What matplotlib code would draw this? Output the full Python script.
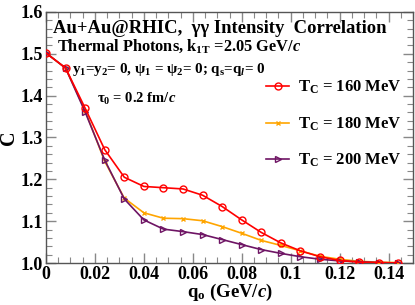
import matplotlib
matplotlib.use("Agg")
import matplotlib.pyplot as plt
from matplotlib.ticker import MultipleLocator, FixedLocator

plt.rcParams['font.family'] = ['Liberation Serif', 'DejaVu Serif']
plt.rcParams['font.weight'] = 'bold'
plt.rcParams['mathtext.fontset'] = 'custom'
plt.rcParams['mathtext.rm'] = 'Liberation Serif:bold'
plt.rcParams['mathtext.bf'] = 'Liberation Serif:bold'
plt.rcParams['mathtext.it'] = 'Liberation Serif:italic'

q = [0.0, 0.008, 0.016, 0.024, 0.032, 0.040, 0.048, 0.056, 0.064, 0.072,
     0.080, 0.088, 0.096, 0.104, 0.112, 0.120, 0.128, 0.136, 0.144]
c160 = [1.502, 1.466, 1.370, 1.271, 1.205, 1.183, 1.180, 1.177, 1.162, 1.135,
        1.103, 1.073, 1.048, 1.029, 1.015, 1.006, 1.002, 1.001, 1.000]
c180 = [1.502, 1.466, 1.364, 1.243, 1.155, 1.120, 1.107, 1.106, 1.101, 1.087,
        1.071, 1.054, 1.042, 1.029, 1.016, 1.009, 1.004, 1.002, 1.001]
c200 = [1.502, 1.466, 1.361, 1.246, 1.153, 1.103, 1.081, 1.075, 1.068, 1.056,
        1.044, 1.032, 1.023, 1.015, 1.009, 1.005, 1.003, 1.001, 1.000]
labels = [r'T$_\mathrm{C}$ = 160 MeV', r'T$_\mathrm{C}$ = 180 MeV', r'T$_\mathrm{C}$ = 200 MeV']
xticks = [0, 0.02, 0.04, 0.06, 0.08, 0.1, 0.12, 0.14]
xticklabels = ['0', '0.02', '0.04', '0.06', '0.08', '0.1', '0.12', '0.14']
yticks = [1.0, 1.1, 1.2, 1.3, 1.4, 1.5, 1.6]
yticklabels = ['1.0', '1.1', '1.2', '1.3', '1.4', '1.5', '1.6']

fig = plt.figure(figsize=(4.15, 3.05), dpi=100)
ax = fig.add_axes([46/415, 42/305, 367/415, 251/305])

red = '#ff0000'
orange = '#ffa500'
purple = '#6e1464'

l180, = ax.plot(q, c180, color=orange, lw=1.2, marker='x', ms=3.5, mew=1.0, zorder=3)
l200, = ax.plot(q, c200, color=purple, lw=1.2, marker='>', ms=4.5, mfc='none', mew=1.0, zorder=4)
l160, = ax.plot(q, c160, color=red, lw=1.2, marker='o', ms=5, mfc='none', mew=1.0, zorder=5)

ax.set_xlim(0, 0.15)
ax.set_ylim(1.0, 1.6)
ax.xaxis.set_major_locator(FixedLocator(xticks))
ax.set_xticklabels(xticklabels)
ax.yaxis.set_major_locator(FixedLocator(yticks))
ax.set_yticklabels(yticklabels)
ax.xaxis.set_minor_locator(MultipleLocator(0.005))
ax.yaxis.set_minor_locator(MultipleLocator(0.02))
ax.tick_params(which='both', direction='in', top=True, right=True, color='#888888')
ax.tick_params(which='major', length=7, width=1.0, labelsize=13, pad=2)
ax.tick_params(which='minor', length=4, width=0.8)
for s in ax.spines.values():
    s.set_color('#555555')
    s.set_linewidth(1.0)
for t in ax.get_xticklabels() + ax.get_yticklabels():
    t.set_fontweight('bold')

ax.set_xlabel(r'q$_\mathrm{o}$ (GeV/$c$)', fontsize=13.5, fontweight='bold', labelpad=-1)
ax.set_ylabel('C', fontsize=14.5, fontweight='bold', labelpad=1)

ax.text(53/415, (305-33)/305, 'Au+Au@RHIC,  γγ Intensity  Correlation', transform=fig.transFigure,
        fontsize=13.4, fontweight='bold')
ax.text(57/415, (305-51)/305, r'Thermal Photons, k$_\mathrm{1T}$ =2.05 GeV/$c$', transform=fig.transFigure,
        fontsize=11.8, fontweight='bold')
ax.text(72/415, (305-73)/305, r'y$_1$=y$_2$= 0, ψ$_1$ = ψ$_2$= 0; q$_\mathrm{s}$=q$_l$= 0', transform=fig.transFigure,
        fontsize=10.8, fontweight='bold')
ax.text(97/415, (305-103)/305, r'τ$_0$ = 0.2 fm/$c$', transform=fig.transFigure,
        fontsize=10.5, fontweight='bold')

ax.legend([l160, l180, l200], labels, loc='upper right', bbox_to_anchor=(1.0, 0.78),
          frameon=False, fontsize=12, handlelength=1.4, handletextpad=0.5,
          labelspacing=1.15, borderaxespad=0.3)

fig.savefig('out.png', dpi=100)
